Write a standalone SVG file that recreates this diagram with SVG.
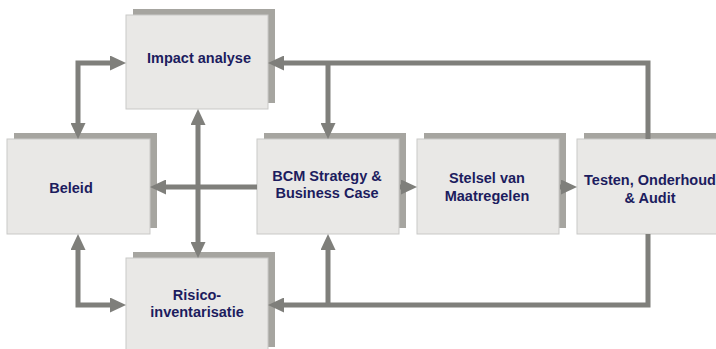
<svg xmlns="http://www.w3.org/2000/svg" width="716" height="349" viewBox="0 0 716 349">
<defs>
<style>
.sh{fill:#a6a5a0;}
.bx{fill:#e9e8e6;stroke:#c9c9c7;stroke-width:1;}
.t{font-family:"Liberation Sans",Arial,sans-serif;font-weight:bold;font-size:14.5px;fill:#1c1c5e;text-anchor:middle;}
.c{fill:none;stroke:#7f7f7b;stroke-width:5;}
</style>
<marker id="ah" markerUnits="userSpaceOnUse" markerWidth="16" markerHeight="15" refX="8" refY="7.5" orient="auto-start-reverse" viewBox="0 0 16 15">
<path d="M0,0 L16,7.5 L0,15 z" fill="#7f7f7b"/>
</marker>
</defs>
<rect width="716" height="349" fill="#ffffff"/>
<g id="impact">
<rect class="sh" x="133" y="9" width="142" height="94"/>
<rect class="bx" x="126" y="15" width="142" height="94"/>
<text class="t" x="199" y="63">Impact analyse</text>
</g>
<g id="beleid">
<rect class="sh" x="14" y="133" width="143" height="95"/>
<rect class="bx" x="7" y="139" width="143" height="95"/>
<text class="t" x="71" y="193">Beleid</text>
</g>
<g id="bcm">
<rect class="sh" x="264" y="133" width="142" height="95"/>
<rect class="bx" x="257" y="139" width="142" height="95"/>
<text class="t" x="327" y="181">BCM Strategy &amp;</text>
<text class="t" x="327" y="198">Business Case</text>
</g>
<g id="stelsel">
<rect class="sh" x="424" y="133" width="142" height="95"/>
<rect class="bx" x="417" y="139" width="142" height="95"/>
<text class="t" x="487" y="183">Stelsel van</text>
<text class="t" x="487" y="201">Maatregelen</text>
</g>
<g id="testen">
<rect class="sh" x="584" y="133" width="146" height="95"/>
<rect class="bx" x="577" y="139" width="146" height="95"/>
<text class="t" x="650" y="185">Testen, Onderhoud</text>
<text class="t" x="650" y="203">&amp; Audit</text>
</g>
<g id="risico">
<rect class="sh" x="133" y="252" width="142" height="95"/>
<rect class="bx" x="126" y="258" width="142" height="100"/>
<text class="t" x="197" y="300">Risico-</text>
<text class="t" x="197" y="317">inventarisatie</text>
</g>
<g id="connectors">
<path class="c" d="M78,131 V63 H118" marker-start="url(#ah)" marker-end="url(#ah)"/>
<path class="c" d="M78,242 V305 H118" marker-start="url(#ah)" marker-end="url(#ah)"/>
<path class="c" d="M198,117 V250" marker-start="url(#ah)" marker-end="url(#ah)"/>
<path class="c" d="M257,187 H158" marker-end="url(#ah)"/>
<path class="c" d="M648,139 V63 H276" marker-end="url(#ah)"/>
<path class="c" d="M328,63 V131" marker-end="url(#ah)"/>
<path class="c" d="M648,234 V305 H276" marker-end="url(#ah)"/>
<path class="c" d="M328,305 V242" marker-end="url(#ah)"/>
<path class="c" d="M400,187 H409" marker-end="url(#ah)"/>
<path class="c" d="M560,187 H569" marker-end="url(#ah)"/>
</g>
</svg>
